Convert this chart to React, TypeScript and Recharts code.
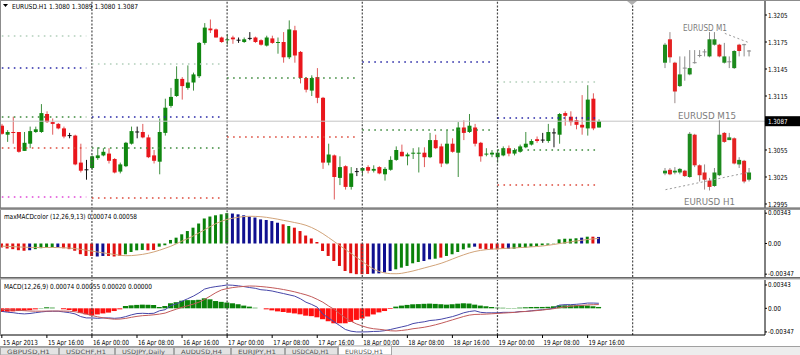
import React from 'react';
import { ComposedChart, Bar, Line, XAxis, YAxis, ReferenceLine, Cell } from 'recharts';

const FONT = "'DejaVu Sans', 'Liberation Sans', sans-serif";

// ---------- EURUSD H1 candles (15 Apr 2013 08:00 .. 19 Apr 2013 18:00) ----------
const OPEN = [
  1.3082, 1.3072, 1.3075, 1.3075, 1.3054, 1.3062, 1.3075, 1.3075, 1.3095, 1.3086,
  1.3084, 1.3079, 1.3071, 1.3071, 1.3041, 1.3033, 1.3035, 1.3046, 1.3049, 1.3051,
  1.3045, 1.3031, 1.3037, 1.3062, 1.3075, 1.3075, 1.3069, 1.3049, 1.3042, 1.3074,
  1.3104, 1.3115, 1.3134, 1.3124, 1.3130, 1.3137, 1.3174, 1.3190, 1.3189, 1.3180,
  1.3177, 1.3180, 1.3177, 1.3175, 1.3179, 1.3180, 1.3177, 1.3171, 1.3179, 1.3174,
  1.3175, 1.3158, 1.3188, 1.3164, 1.3135, 1.3121, 1.3136, 1.3113, 1.3041, 1.3049,
  1.3024, 1.3037, 1.3014, 1.3031, 1.3032, 1.3036, 1.3032, 1.3036, 1.3028, 1.3033,
  1.3044, 1.3053, 1.3048, 1.3051, 1.3051, 1.3052, 1.3047, 1.3066, 1.3059, 1.3040,
  1.3062, 1.3052, 1.3080, 1.3075, 1.3080, 1.3063, 1.3050, 1.3050, 1.3047, 1.3049,
  1.3057, 1.3051, 1.3053, 1.3058, 1.3061, 1.3067, 1.3066, 1.3065, 1.3074, 1.3072,
  1.3096, 1.3092, 1.3088, 1.3083, 1.3079, 1.3112, 1.3080,
];
const HIGH = [
  1.3084, 1.3077, 1.3092, 1.3075, 1.3075, 1.3081, 1.3081, 1.3106, 1.3098, 1.3090,
  1.3085, 1.3081, 1.3074, 1.3072, 1.3062, 1.3044, 1.3049, 1.3058, 1.3057, 1.3057,
  1.3046, 1.3041, 1.3064, 1.3081, 1.3081, 1.3084, 1.3072, 1.3055, 1.3090, 1.3112,
  1.3124, 1.3148, 1.3136, 1.3149, 1.3141, 1.3175, 1.3196, 1.3200, 1.3190, 1.3181,
  1.3184, 1.3182, 1.3180, 1.3180, 1.3186, 1.3181, 1.3178, 1.3182, 1.3182, 1.3180,
  1.3186, 1.3199, 1.3193, 1.3165, 1.3136, 1.3138, 1.3146, 1.3114, 1.3062, 1.3050,
  1.3048, 1.3038, 1.3036, 1.3035, 1.3036, 1.3038, 1.3038, 1.3037, 1.3036, 1.3048,
  1.3059, 1.3061, 1.3052, 1.3057, 1.3058, 1.3058, 1.3074, 1.3072, 1.3062, 1.3077,
  1.3068, 1.3086, 1.3088, 1.3095, 1.3084, 1.3064, 1.3057, 1.3055, 1.3055, 1.3059,
  1.3060, 1.3057, 1.3061, 1.3075, 1.3067, 1.3070, 1.3074, 1.3084, 1.3079, 1.3096,
  1.3098, 1.3098, 1.3092, 1.3116, 1.3127, 1.3118, 1.3089,
];
const LOW = [
  1.3072, 1.3064, 1.3062, 1.3052, 1.3054, 1.3057, 1.3074, 1.3074, 1.3085, 1.3072,
  1.3078, 1.3068, 1.3068, 1.3038, 1.3030, 1.3022, 1.3033, 1.3044, 1.3048, 1.3040,
  1.3029, 1.3029, 1.3036, 1.3061, 1.3068, 1.3068, 1.3046, 1.3040, 1.3028, 1.3071,
  1.3102, 1.3114, 1.3111, 1.3122, 1.3121, 1.3135, 1.3172, 1.3185, 1.3180, 1.3174,
  1.3172, 1.3173, 1.3174, 1.3174, 1.3177, 1.3174, 1.3171, 1.3170, 1.3173, 1.3162,
  1.3152, 1.3156, 1.3152, 1.3129, 1.3119, 1.3115, 1.3107, 1.3034, 1.3038, 1.3000,
  1.3016, 1.3011, 1.3011, 1.3026, 1.3027, 1.3029, 1.3030, 1.3028, 1.3021, 1.3032,
  1.3043, 1.3048, 1.3038, 1.3045, 1.3030, 1.3036, 1.3046, 1.3056, 1.3036, 1.3039,
  1.3052, 1.3025, 1.3066, 1.3074, 1.3059, 1.3042, 1.3048, 1.3047, 1.3041, 1.3048,
  1.3048, 1.3049, 1.3052, 1.3057, 1.3060, 1.3063, 1.3063, 1.3063, 1.3058, 1.3062,
  1.3082, 1.3082, 1.3078, 1.3072, 1.3071, 1.3077, 1.3080,
];
const CLOSE = [
  1.3073, 1.3075, 1.3074, 1.3053, 1.3063, 1.3076, 1.3078, 1.3096, 1.3086, 1.3084,
  1.3079, 1.3070, 1.3071, 1.3039, 1.3032, 1.3033, 1.3048, 1.3049, 1.3053, 1.3043,
  1.3030, 1.3039, 1.3063, 1.3076, 1.3075, 1.3069, 1.3047, 1.3043, 1.3075, 1.3102,
  1.3114, 1.3134, 1.3126, 1.3130, 1.3139, 1.3174, 1.3191, 1.3188, 1.3180, 1.3175,
  1.3178, 1.3178, 1.3177, 1.3178, 1.3179, 1.3175, 1.3172, 1.3180, 1.3174, 1.3175,
  1.3158, 1.3189, 1.3160, 1.3135, 1.3122, 1.3135, 1.3113, 1.3041, 1.3050, 1.3025,
  1.3036, 1.3014, 1.3029, 1.3031, 1.3035, 1.3032, 1.3034, 1.3029, 1.3034, 1.3044,
  1.3055, 1.3048, 1.3050, 1.3052, 1.3052, 1.3047, 1.3066, 1.3057, 1.3040, 1.3062,
  1.3053, 1.3080, 1.3074, 1.3082, 1.3062, 1.3048, 1.3051, 1.3052, 1.3052, 1.3057,
  1.3051, 1.3055, 1.3059, 1.3062, 1.3065, 1.3065, 1.3066, 1.3075, 1.3074, 1.3095,
  1.3093, 1.3086, 1.3083, 1.3080, 1.3111, 1.3079, 1.3087,
];

// ---------- maxMACDcolor (12,26,9,13) ----------
const MACD = [
  -0.00045, -0.00057, -0.00064, -0.00076, -0.00082, -0.00076, -0.00064, -0.00053, -0.00045, -0.00043,
  -0.00043, -0.00053, -0.00064, -0.00082, -0.00121, -0.00141, -0.00141, -0.00147, -0.00141, -0.00141,
  -0.00147, -0.00141, -0.00122, -0.00096, -0.00077, -0.00073, -0.00077, -0.00073, -0.00036, -0.0002,
  0.0004, 0.00066, 0.00104, 0.00141, 0.00179, 0.00226, 0.00283, 0.00305, 0.00319, 0.0033,
  0.00343, 0.00339, 0.0033, 0.00319, 0.00305, 0.00294, 0.00273, 0.00266, 0.00254, 0.00235,
  0.00217, 0.00198, 0.00179, 0.00141, 0.0009, 0.00057, 0.00017, -0.00085, -0.00141, -0.00198,
  -0.00254, -0.00311, -0.00336, -0.00347, -0.00347, -0.00345, -0.0034, -0.00338, -0.00328, -0.00311,
  -0.00292, -0.00273, -0.00254, -0.00224, -0.00209, -0.00198, -0.00179, -0.00172, -0.0016, -0.00141,
  -0.00122, -0.00096, -0.00066, -0.00047, -0.00036, -0.00059, -0.00066, -0.00066, -0.00066, -0.00059,
  -0.00059, -0.00059, -0.00047, -0.00047, -0.00036, -0.00028, -0.0002, -0.00014, 0.00003, 0.00047,
  0.00054, 0.00054, 0.00059, 0.00066, 0.00077, 0.00077, 0.00074,
];
const MACD_COLOR = [
  'rrrrr', 'b', 'gggg', 'b', 'rrrrrr', 'bb', 'rrr', 'gggg', 'rr', 'ggggggggggggg', 'bbbbbbbbb', 'r', 'g',
  'rrrrrrrrrrrrrr', 'bbbb', 'ggggg', 'bb', 'g', 'r', 'ggggg', 'b', 'rrrrr', 'b', 'gggggggggggg', 'b', 'g', 'r', 'b',
].join('').split('');
const SIGNAL_MAX = [
  -0.0003, -0.00033, -0.00036, -0.00039, -0.00042, -0.00044, -0.00045, -0.00045, -0.00045, -0.00045,
  -0.00046, -0.00048, -0.00052, -0.00058, -0.00066, -0.00076, -0.00086, -0.00096, -0.00106, -0.00115,
  -0.00124, -0.00134, -0.00138, -0.00137, -0.00131, -0.00123, -0.00111, -0.00095, -0.00076, -0.00054,
  -0.00031, -0.00003, 0.00028, 0.00055, 0.00086, 0.0012, 0.00155, 0.00191, 0.00225, 0.00252,
  0.00272, 0.00286, 0.00297, 0.00305, 0.00308, 0.00307, 0.00303, 0.00296, 0.00286, 0.00275,
  0.00262, 0.0025, 0.00237, 0.00224, 0.00206, 0.00181, 0.00149, 0.00111, 0.00068, 0.00023,
  -0.00023, -0.00068, -0.00113, -0.00158, -0.00203, -0.00249, -0.00288, -0.00316, -0.00333, -0.00341,
  -0.00342, -0.00337, -0.00325, -0.00311, -0.00294, -0.00277, -0.0026, -0.00243, -0.00224, -0.00201,
  -0.00176, -0.00151, -0.00128, -0.00107, -0.0009, -0.00078, -0.0007, -0.00064, -0.0006, -0.00057,
  -0.00053, -0.0005, -0.00046, -0.00043, -0.00038, -0.00034, -0.00028, -0.0002, -0.00011, -0.00001,
  0.00009, 0.00019, 0.00029, 0.00037, 0.00045, 0.00052, 0.00058,
];

// ---------- MACD(12,26,9) ----------
const SIGNAL = [
  -0.00015, -0.0002, -0.00025, -0.0003, -0.00035, -0.0004, -0.00042, -0.00042, -0.00041, -0.0004,
  -0.0004, -0.0004, -0.00043, -0.0005, -0.00065, -0.00085, -0.00105, -0.00125, -0.0014, -0.00152,
  -0.0016, -0.00158, -0.00148, -0.00132, -0.00118, -0.00108, -0.00103, -0.00095, -0.00085, -0.0007,
  -0.0004, -0.00012, 0.00015, 0.00038, 0.00062, 0.0009, 0.0013, 0.0018, 0.0023, 0.0027,
  0.0029, 0.00305, 0.00315, 0.00322, 0.00328, 0.00326, 0.0032, 0.00312, 0.00302, 0.0029,
  0.00276, 0.0026, 0.00242, 0.0022, 0.00198, 0.0017, 0.00132, 0.0009, 0.00035, -0.00015,
  -0.0008, -0.0014, -0.0019, -0.0023, -0.0026, -0.00285, -0.003, -0.00308, -0.00318, -0.0033,
  -0.00333, -0.00325, -0.00315, -0.003, -0.0029, -0.00278, -0.00262, -0.00242, -0.0022, -0.00195,
  -0.0017, -0.00145, -0.0012, -0.001, -0.0009, -0.00088, -0.00085, -0.0008, -0.00075, -0.0007,
  -0.00065, -0.0006, -0.00052, -0.00046, -0.0004, -0.00033, -0.00025, -0.00015, -0.00005, 0.0001,
  0.0002, 0.0003, 0.00038, 0.00044, 0.0005, 0.00053, 0.00055,
];
const OSMA = [
  -0.00054, -0.0005, -0.00045, -0.0004, -0.00034, -0.00027, -0.00015, 0.00005, 0.00015, 0.0001,
  0, -0.00012, -0.00025, -0.0004, -0.0007, -0.00088, -0.00103, -0.0009, -0.00075, -0.00063,
  -0.0004, -0.00015, 0.00034, 0.00044, 0.0005, 0.00054, 0.00052, 0.00049, 0.00019, 0.00034,
  0.00074, 0.0009, 0.00112, 0.0012, 0.0012, 0.00125, 0.00147, 0.00132, 0.00107, 0.00095,
  0.00085, 0.00074, 0.0006, 0.0004, 0.00025, 0.0001, 0, -0.00015, -0.0003, -0.00045,
  -0.00054, -0.00065, -0.00075, -0.00088, -0.00108, -0.00115, -0.00132, -0.0016, -0.0019, -0.0022,
  -0.0022, -0.0022, -0.002, -0.0017, -0.0015, -0.0012, -0.0009, -0.0006, -0.0004, -0.0001,
  0.00025, 0.0004, 0.0005, 0.00059, 0.00062, 0.00066, 0.00069, 0.00065, 0.0006, 0.00054,
  0.0006, 0.00068, 0.00074, 0.0007, 0.00054, 0.0004, 0.0003, 0.00019, 0.0001, 0.00008,
  0.00005, 0.00005, 0.0001, 0.00015, 0.00019, 0.0002, 0.0002, 0.00022, 0.0003, 0.00044,
  0.00044, 0.00044, 0.00044, 0.00044, 0.0004, 0.0003, 0.0002,
];

// ---------- time axis ----------
const N_SLOTS = 136;
const TIME_TICKS = [0, 8, 16, 24, 32, 40, 48, 56, 64, 72, 80, 88, 96, 104];
const TIME_LABELS = [
  '15 Apr 2013', '15 Apr 16:00', '16 Apr 00:00', '16 Apr 08:00', '16 Apr 16:00', '17 Apr 00:00', '17 Apr 08:00',
  '17 Apr 16:00', '18 Apr 00:00', '18 Apr 08:00', '18 Apr 16:00', '19 Apr 00:00', '19 Apr 08:00', '19 Apr 16:00',
];
const DAY_SEPARATORS = [16, 40, 64, 88, 112];

// ---------- price axis ----------
const PRICE_TICKS = [1.3205, 1.3175, 1.3145, 1.3115, 1.3087, 1.3055, 1.3025, 1.2995];
const CURRENT_PRICE = 1.3087;
const IND_TICKS = [0.00343, 0, -0.00347];

// ---------- daily pivot levels ----------
const DAY_START = [0, 16, 40, 64, 88];
const DAY_END = [15, 39, 63, 87, 106];
const PIVOT_DAY = [0, 0, 0, 0, 0, 1, 1, 1, 1, 2, 2, 3, 3, 4, 4, 4, 4];
const PIVOT_KIND = ['pale', 'blue', 'green', 'red', 'magenta', 'pale', 'blue', 'green', 'red', 'green', 'red', 'blue', 'green', 'pale', 'blue', 'green', 'red'];
const PIVOT_PRICE = [1.31817, 1.31461, 1.30917, 1.30572, 1.30028, 1.31506, 1.30917, 1.30572, 1.30017, 1.3135, 1.30694, 1.31528, 1.30772, 1.31306, 1.30906, 1.3055, 1.30161];

// ---------- inset: EURUSD M1 ----------
const M1_OPEN = [1.3152, 1.3178, 1.3152, 1.3126, 1.3146, 1.3139, 1.3152, 1.3160, 1.3164, 1.3159, 1.3172, 1.3172, 1.3152, 1.3153, 1.3146, 1.3172, 1.3172, 1.3165];
const M1_HIGH = [1.3174, 1.3186, 1.3153, 1.3159, 1.3159, 1.3166, 1.3166, 1.3166, 1.3167, 1.3186, 1.3186, 1.3173, 1.3174, 1.3159, 1.3166, 1.3173, 1.3173, 1.3166];
const M1_LOW = [1.3146, 1.3152, 1.3107, 1.3125, 1.3132, 1.3138, 1.3151, 1.3158, 1.3159, 1.3158, 1.3171, 1.3158, 1.3151, 1.3146, 1.3145, 1.3159, 1.3159, 1.3159];
const M1_CLOSE = [1.3172, 1.3158, 1.3120, 1.3139, 1.3146, 1.3146, 1.3152, 1.3160, 1.3164, 1.3178, 1.3178, 1.3159, 1.3159, 1.3153, 1.3165, 1.3165, 1.3172, 1.3165];
const M1_TREND = [1.31846, 1.3174];

// ---------- inset: EURUSD M15 ----------
const M15_OPEN = [1.3029, 1.3033, 1.3030, 1.3030, 1.3032, 1.3025, 1.3072, 1.3038, 1.3030, 1.3021, 1.3015, 1.3027, 1.3074, 1.3066, 1.3068, 1.3039, 1.3043, 1.3022];
const M15_HIGH = [1.3035, 1.3035, 1.3036, 1.3035, 1.3033, 1.3075, 1.3073, 1.3039, 1.3039, 1.3024, 1.3035, 1.3088, 1.3075, 1.3074, 1.3069, 1.3047, 1.3044, 1.3035];
const M15_LOW = [1.3027, 1.3027, 1.3028, 1.3028, 1.3025, 1.3024, 1.3036, 1.3020, 1.3011, 1.3010, 1.3014, 1.3026, 1.3063, 1.3066, 1.3039, 1.3035, 1.3018, 1.3020];
const M15_CLOSE = [1.3032, 1.3028, 1.3032, 1.3034, 1.3026, 1.3073, 1.3038, 1.3027, 1.3022, 1.3014, 1.3030, 1.3072, 1.3064, 1.3069, 1.3040, 1.3044, 1.3020, 1.3030];
const M15_TREND = [1.30109, 1.30304];

const TABS = ['GBPUSD,H1', 'USDCHF,H1', 'USDJPY,Daily', 'AUDUSD,H4', 'EURJPY,H1', 'USDCAD,H1', 'EURUSD,H1'];

// ---------- styles ----------
const PRICE_DOMAIN: [number, number] = [1.298944, 1.322056];
const PIVOT_COLOR: Record<string, string> = {
  pale: '#b2cfbb', blue: '#2a2aa8', green: '#3d8a3d', red: '#dd4b3c', magenta: '#e048d8',
};
const HIST_COLOR: Record<string, string> = { g: '#0a820a', b: '#101090', r: '#e01010' };

const rows = Array.from({ length: N_SLOTS }, (_, i) =>
  i < OPEN.length
    ? {
        i, o: OPEN[i], h: HIGH[i], l: LOW[i], c: CLOSE[i], rng: [LOW[i], HIGH[i]],
        m: MACD[i], mcol: MACD_COLOR[i], sm: SIGNAL_MAX[i], sg: SIGNAL[i], os: OSMA[i],
      }
    : { i }
);

const makeInsetRows = (o: number[], h: number[], l: number[], c: number[]) =>
  o.map((_, k) => ({ k, o: o[k], h: h[k], l: l[k], c: c[k], rng: [l[k], h[k]] }));
const m1Rows = makeInsetRows(M1_OPEN, M1_HIGH, M1_LOW, M1_CLOSE);
const m15Rows = makeInsetRows(M15_OPEN, M15_HIGH, M15_LOW, M15_CLOSE);

function makeCandle(bull: string, bear: string, doji: string, wickBull: string, wickBear: string, bodyW: number) {
  return (props: any) => {
    const { x, y, width, height, payload } = props;
    if (!payload || payload.o == null) return <g />;
    const { o, h, l, c } = payload;
    const top = Math.min(y, y + height);
    const bot = Math.max(y, y + height);
    const span = h - l;
    const py = (v: number) => (span > 0 ? top + ((h - v) / span) * (bot - top) : top);
    const cx = x + width / 2;
    const kind = c > o ? 'up' : c < o ? 'down' : 'flat';
    const body = kind === 'up' ? bull : kind === 'down' ? bear : doji;
    const wick = kind === 'up' ? wickBull : kind === 'down' ? wickBear : doji;
    const yTop = py(Math.max(o, c));
    const yBot = py(Math.min(o, c));
    return (
      <g>
        <line x1={cx} x2={cx} y1={top} y2={bot} stroke={wick} strokeWidth={1} />
        {kind === 'flat' ? (
          <line x1={cx - bodyW / 2} x2={cx + bodyW / 2} y1={yTop} y2={yTop} stroke={doji} strokeWidth={1} />
        ) : (
          <rect x={cx - bodyW / 2} y={yTop} width={bodyW} height={Math.max(1, yBot - yTop)} fill={body} />
        )}
      </g>
    );
  };
}

const mainCandle = makeCandle('#0f870f', '#e9161c', '#111111', '#3f8f3f', '#e05a5a', 4);
const insetCandle = makeCandle('#1d8a1d', '#e42222', '#8c8c8c', '#8a8a8a', '#9a8a8a', 4);

const priceTick = (p: any) => {
  const v = p.payload.value as number;
  const label = v.toFixed(4);
  if (v === CURRENT_PRICE) {
    return (
      <g>
        <rect x={p.x - 3} y={p.y - 5} width={36} height={10} fill="#000" />
        <text x={p.x} y={p.y + 2.6} fontSize={7} fontFamily={FONT} fill="#fff" textLength={19.5} lengthAdjust="spacingAndGlyphs">{label}</text>
      </g>
    );
  }
  return (
    <text x={p.x} y={p.y + 2.6} fontSize={7} fontFamily={FONT} fill="#000" textLength={19.5} lengthAdjust="spacingAndGlyphs">{label}</text>
  );
};

const indTick = (p: any) => {
  const v = p.payload.value as number;
  const label = v === 0 ? '0.00' : v.toFixed(5);
  return (
    <text x={p.x} y={p.y + 2.3} fontSize={6.8} fontFamily={FONT} fill="#000" textLength={label.length * 3.25} lengthAdjust="spacingAndGlyphs">{label}</text>
  );
};

const timeTick = (p: any) => {
  const idx = TIME_TICKS.indexOf(p.payload.value);
  const label = TIME_LABELS[idx] ?? '';
  return (
    <g>
      <line x1={p.x} x2={p.x} y1={p.y} y2={p.y + 3} stroke="#000" strokeWidth={1} />
      <text x={p.x + 1} y={p.y + 10} fontSize={7} fontFamily={FONT} fill="#000" textLength={label.length === 11 ? 35 : 36} lengthAdjust="spacingAndGlyphs">{label}</text>
    </g>
  );
};

const separators = (key: string) =>
  DAY_SEPARATORS.map((s) => (
    <ReferenceLine key={key + s} x={s} stroke="#4a4a4a" strokeWidth={1.2} strokeDasharray="2 1.6" />
  ));

export default function App() {
  return (
    <div style={{ position: 'absolute', left: 0, top: 0, width: 800, height: 355, background: '#fff', overflow: 'hidden' }}>
      {/* main price panel */}
      <div style={{ position: 'absolute', left: -1, top: 0 }}>
        <ComposedChart width={801} height={209} data={rows} margin={{ top: 1, right: 0, left: 0, bottom: 0 }}>
          <XAxis dataKey="i" type="category" hide />
          <YAxis
            orientation="right" width={35} type="number" domain={PRICE_DOMAIN} allowDataOverflow
            ticks={PRICE_TICKS} interval={0} tick={priceTick} tickSize={2} tickMargin={1}
            axisLine={{ stroke: '#000' }} tickLine={{ stroke: '#000' }}
          />
          {separators('m')}
          <ReferenceLine y={CURRENT_PRICE} stroke="#c4c4c4" strokeWidth={1} />
          {PIVOT_PRICE.map((p, k) => (
            <ReferenceLine
              key={'pv' + k}
              segment={[{ x: DAY_START[PIVOT_DAY[k]], y: p }, { x: DAY_END[PIVOT_DAY[k]], y: p }]}
              stroke={PIVOT_COLOR[PIVOT_KIND[k]]} strokeWidth={1.4} strokeDasharray="1.6 4.4"
            />
          ))}
          <Bar dataKey="rng" barSize={4} shape={mainCandle} isAnimationActive={false} />
        </ComposedChart>
      </div>

      {/* inset M1 */}
      <div style={{ position: 'absolute', left: 663, top: 0 }}>
        <ComposedChart width={89} height={209} data={m1Rows} margin={{ top: 1, right: 0, left: 0, bottom: 0 }}>
          <XAxis dataKey="k" type="category" hide />
          <YAxis hide type="number" domain={PRICE_DOMAIN} allowDataOverflow />
          <ReferenceLine segment={[{ x: 12, y: M1_TREND[0] }, { x: 17, y: M1_TREND[1] }]} stroke="#9a9a9a" strokeDasharray="2 2.5" />
          <Bar dataKey="rng" barSize={4} shape={insetCandle} isAnimationActive={false} />
        </ComposedChart>
      </div>

      {/* inset M15 */}
      <div style={{ position: 'absolute', left: 663, top: 0 }}>
        <ComposedChart width={89} height={209} data={m15Rows} margin={{ top: 1, right: 0, left: 0, bottom: 0 }}>
          <XAxis dataKey="k" type="category" hide />
          <YAxis hide type="number" domain={PRICE_DOMAIN} allowDataOverflow />
          <ReferenceLine segment={[{ x: 0, y: M15_TREND[0] }, { x: 17, y: M15_TREND[1] }]} stroke="#9a9a9a" strokeDasharray="2 2.5" />
          <Bar dataKey="rng" barSize={4} shape={insetCandle} isAnimationActive={false} />
        </ComposedChart>
      </div>

      {/* maxMACDcolor panel */}
      <div style={{ position: 'absolute', left: -1, top: 209 }}>
        <ComposedChart width={801} height={68} data={rows} margin={{ top: 1, right: 0, left: 0, bottom: 0 }}>
          <XAxis dataKey="i" type="category" hide />
          <YAxis
            orientation="right" width={35} type="number" domain={[-0.00379, 0.00379]} allowDataOverflow
            ticks={IND_TICKS} interval={0} tick={indTick} tickSize={2} tickMargin={1}
            axisLine={{ stroke: '#000' }} tickLine={{ stroke: '#000' }}
          />
          {separators('h')}
          <Bar dataKey="m" barSize={3} isAnimationActive={false}>
            {rows.map((r: any, k) => (
              <Cell key={k} fill={HIST_COLOR[r.mcol] ?? '#000'} />
            ))}
          </Bar>
          <Line dataKey="sm" type="monotone" stroke="#d2a47a" strokeWidth={1} dot={false} isAnimationActive={false} />
        </ComposedChart>
      </div>

      {/* MACD panel */}
      <div style={{ position: 'absolute', left: -1, top: 279 }}>
        <ComposedChart width={801} height={70} data={rows} margin={{ top: 1, right: 0, left: 0, bottom: 0 }}>
          <XAxis
            dataKey="i" type="category" ticks={TIME_TICKS} interval={0} tick={timeTick}
            tickSize={0} tickMargin={0} tickLine={false} height={14} axisLine={{ stroke: '#000' }}
          />
          <YAxis
            orientation="right" width={35} type="number" domain={[-0.00392, 0.00416]} allowDataOverflow
            ticks={IND_TICKS} interval={0} tick={indTick} tickSize={2} tickMargin={1}
            axisLine={{ stroke: '#000' }} tickLine={{ stroke: '#000' }}
          />
          {separators('o')}
          <Bar dataKey="os" barSize={6} isAnimationActive={false}>
            {rows.map((r: any, k) => (
              <Cell key={k} fill={(r.os ?? 0) >= 0 ? '#0a820a' : '#ff1010'} />
            ))}
          </Bar>
          <Line dataKey="m" type="linear" stroke="#4646a8" strokeWidth={1} dot={false} isAnimationActive={false} />
          <Line dataKey="sg" type="linear" stroke="#c25a5a" strokeWidth={1} dot={false} isAnimationActive={false} />
        </ComposedChart>
      </div>

      {/* frame, labels, tabs */}
      <svg width={800} height={355} style={{ position: 'absolute', left: 0, top: 0, pointerEvents: 'none' }}>
        <line x1={0} x2={800} y1={0.5} y2={0.5} stroke="#8c8c8c" />
        <line x1={0.5} x2={0.5} y1={0} y2={336} stroke="#8c8c8c" />
        <rect x={0} y={207.8} width={800} height={2.2} fill="#9c9c9c" />
        <line x1={0} x2={800} y1={208} y2={208} stroke="#6a6a6a" />
        <rect x={0} y={277.2} width={800} height={2.2} fill="#9c9c9c" />
        <line x1={0} x2={800} y1={277.5} y2={277.5} stroke="#6a6a6a" />
        <polygon points="627,1 637,1 632,5" fill="#b0b0b0" />

        <polygon points="3,4 8,4 5.5,7" fill="#000" />
        <text x={12} y={8.6} fontSize={7} fontFamily={FONT} fill="#000" textLength={126} lengthAdjust="spacingAndGlyphs">EURUSD.H1  1.3080 1.3089 1.3080 1.3087</text>
        <text x={4} y={218.6} fontSize={7} fontFamily={FONT} fill="#000" textLength={133} lengthAdjust="spacingAndGlyphs">maxMACDcolor (12,26,9,13) 0.00074 0.00058</text>
        <text x={4} y={288.6} fontSize={7} fontFamily={FONT} fill="#000" textLength={148} lengthAdjust="spacingAndGlyphs">MACD(12,26,9) 0.00074 0.00055 0.00020 0.00000</text>

        <text x={683} y={30.5} fontSize={9} fontFamily={FONT} fill="#7c7c7c" textLength={44} lengthAdjust="spacingAndGlyphs">EURUSD M1</text>
        <text x={678} y={118.5} fontSize={9} fontFamily={FONT} fill="#7c7c7c" textLength={58} lengthAdjust="spacingAndGlyphs">EURUSD M15</text>
        <text x={684} y={205.3} fontSize={9} fontFamily={FONT} fill="#7c7c7c" textLength={51} lengthAdjust="spacingAndGlyphs">EURUSD H1</text>

        <rect x={0} y={346} width={800} height={9} fill="#ededed" />
        <line x1={0} x2={800} y1={346.5} y2={346.5} stroke="#a0a0a0" />
        {TABS.map((t, k) => {
          const xs = [0, 59, 115, 174, 231, 285, 338, 392];
          const active = k === TABS.length - 1;
          const w = xs[k + 1] - xs[k];
          return (
            <g key={t}>
              <rect x={xs[k] + 0.5} y={active ? 346 : 347.5} width={w - 1} height={active ? 9 : 7.5}
                fill={active ? '#ffffff' : '#e3e3e3'} stroke="#a6a6a6" />
              <text x={xs[k] + 7} y={353.5} fontSize={6} fontFamily={FONT} fill="#555"
                textLength={w - 16} lengthAdjust="spacingAndGlyphs">{t}</text>
            </g>
          );
        })}
      </svg>
    </div>
  );
}
